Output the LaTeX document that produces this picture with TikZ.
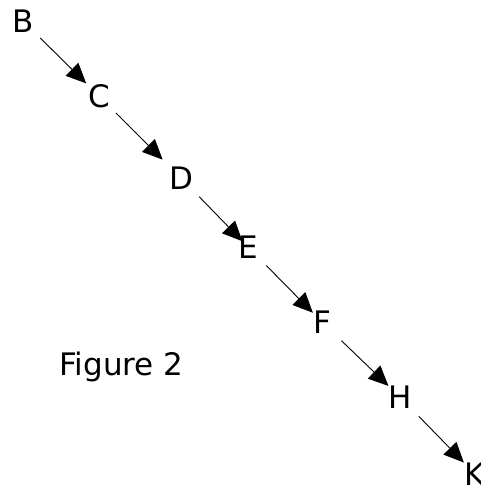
\documentclass[tikz,border=0pt]{standalone}
\usepackage{fontspec}
\setmainfont{DejaVu Sans}
\usetikzlibrary{arrows.meta}
\tikzset{
  letter/.style={inner sep=0pt, font=\fontsize{31}{37}\selectfont},
  link/.style={line width=0.9pt, -{Triangle[length=20pt,width=18pt]}},
}
\begin{document}
\begin{tikzpicture}[x=1pt,y=-1pt]
  \useasboundingbox (0,0) rectangle (480,485);
  % chain of lettered points
  \node[letter] (B) at (23,21) {B};
  \node[letter] (C) at (99,96) {C};
  \node[letter] (D) at (181,178) {D};
  \node[letter] (E) at (248,247) {E};
  \node[letter] (F) at (322,322) {F};
  \node[letter] (H) at (400,397) {H};
  \node[letter] (K) at (475,474) {K};
  % caption
  \node[letter, anchor=base west] (cap) at (59,375) {Figure 2};
  % arrows between consecutive points
  \draw[link, shorten <=24pt, shorten >=18pt] (B.center) -- (C.center);
  \draw[link, shorten <=24pt, shorten >=26pt] (C.center) -- (D.center);
  \draw[link, shorten <=26pt, shorten >=8pt]  (D.center) -- (E.center);
  \draw[link, shorten <=26pt, shorten >=13pt] (E.center) -- (F.center);
  \draw[link, shorten <=27pt, shorten >=16pt] (F.center) -- (H.center);
  \draw[link, shorten <=27pt, shorten >=16pt] (H.center) -- (K.center);
\end{tikzpicture}
\end{document}
